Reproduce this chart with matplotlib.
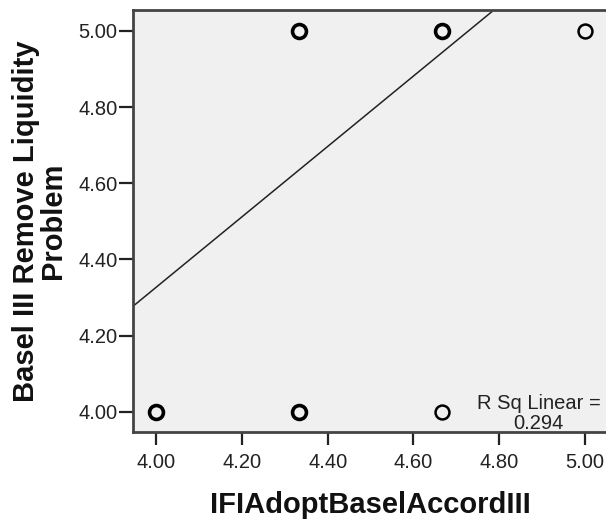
import matplotlib
matplotlib.use("Agg")
import matplotlib.pyplot as plt
import numpy as np

plt.rcParams['font.family'] = ['Liberation Sans', 'DejaVu Sans']

# Data
x_bold = [4.0, 4.3333, 4.3333, 4.6667]
y_bold = [4.0, 4.0, 5.0, 5.0]
x_thin = [4.6667, 5.0]
y_thin = [4.0, 5.0]
fit_slope = 0.924
fit_intercept = 0.631
r_sq = 0.294
xticks = [4.00, 4.20, 4.40, 4.60, 4.80, 5.00]
yticks = [4.00, 4.20, 4.40, 4.60, 4.80, 5.00]

fig = plt.figure(figsize=(6.06, 5.25), dpi=100)
ax = fig.add_axes([133/606, 1 - 432/525, 1 - 133/606 + 0.004, (432 - 10)/525])
ax.set_facecolor('#f0f0f0')

xmin, xmax = 3.946, 5.055
ymin, ymax = 3.947, 5.055
ax.set_xlim(xmin, xmax)
ax.set_ylim(ymin, ymax)

xs = np.array([xmin, xmax])
ax.plot(xs, fit_slope * xs + fit_intercept, color='#222222', lw=1.1, zorder=2)

ax.plot(x_bold, y_bold, 'o', ms=10, mfc='none', mec='black', mew=2.6, zorder=3)
ax.plot(x_thin, y_thin, 'o', ms=10, mfc='none', mec='black', mew=1.8, zorder=3)

ax.text(0.853, 0.068, 'R Sq Linear =', transform=ax.transAxes, ha='center', va='center',
        fontsize=14.5, color='#222222')
ax.text(0.853, 0.02, f'{r_sq:.3f}', transform=ax.transAxes, ha='center', va='center',
        fontsize=14.5, color='#222222')

ax.set_xticks(xticks)
ax.set_yticks(yticks)
ax.set_xticklabels([f'{v:.2f}' for v in xticks])
ax.set_yticklabels([f'{v:.2f}' for v in yticks])
ax.tick_params(axis='both', labelsize=14.5, colors='#222222', width=1.6, direction='out')
ax.tick_params(axis='x', pad=6, length=9)
ax.tick_params(axis='y', pad=1, length=10)

for s in ax.spines.values():
    s.set_color('#444444')
    s.set_linewidth(2)

ax.set_xlabel('IFIAdoptBaselAccordIII', fontsize=21, fontweight='bold', labelpad=14, color='#111111')
ax.set_ylabel('Basel III Remove Liquidity\nProblem', fontsize=21, fontweight='bold',
              labelpad=8, color='#111111', linespacing=0.95)

fig.savefig('out.png', dpi=100)
